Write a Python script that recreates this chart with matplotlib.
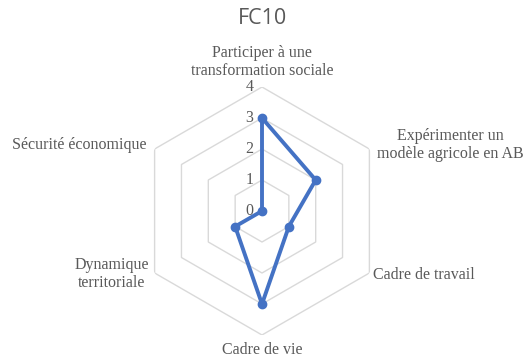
import numpy as np
import matplotlib
matplotlib.use("Agg")
import matplotlib.pyplot as plt

categories = ["Participer à une\ntransformation sociale",
              "Expérimenter un\nmodèle agricole en AB",
              "Cadre de travail",
              "Cadre de vie",
              "Dynamique\nterritoriale",
              "Sécurité économique"]
values = [3, 2, 1, 3, 1, 0]
rticks = [0, 1, 2, 3, 4]
title = "FC10"

W, H = 526, 361
fig = plt.figure(figsize=(W/100, H/100), dpi=100)
cx, cy, R = 262, 211, 124
ax = fig.add_axes([(cx-R)/W, (H-cy-R)/H, 2*R/W, 2*R/H], projection="polar")
ax.set_theta_offset(np.pi/2)
ax.set_theta_direction(-1)
ax.set_ylim(0, 4)
ax.grid(False)
ax.spines["polar"].set_visible(False)
ax.set_xticks([])
ax.set_yticks([])
ax.patch.set_alpha(0)

n = len(categories)
angles = np.linspace(0, 2*np.pi, n, endpoint=False)
closed = np.append(angles, angles[0])
for r in rticks[1:]:
    ax.plot(closed, [r]*(n+1), color="#d9d9d9", lw=1.0, zorder=1)

vals = values + values[:1]
ax.plot(closed, vals, color="#4472C4", lw=2.8, zorder=3, solid_joinstyle="round")
ax.plot(angles, values, 'o', color="#4472C4", ms=6, zorder=4)

gray = "#595959"
serif = "Liberation Serif"
for r in rticks:
    ax.text(0, r, f"{r}  ", transform=ax.transData, ha="right", va="center",
            fontsize=11.5, color=gray, family=serif)

# category labels
pos = [(262, 62, "center", "center"),
       (450, 145, "center", "center"),
       (373, 275, "left", "center"),
       (262, 350, "center", "center"),
       (112, 274, "center", "center"),
       (147, 145, "right", "center")]
for lab, (x, y, ha, va) in zip(categories, pos):
    fig.text(x/W, 1-y/H, lab, ha=ha, va=va, fontsize=11.5, color=gray,
             family=serif, linespacing=1.2, multialignment="center")

fig.text(cx/W, 1-19/H, title, ha="center", va="center", fontsize=15.5,
         color=gray, family="Open Sans")

fig.savefig("out.png", dpi=100)
